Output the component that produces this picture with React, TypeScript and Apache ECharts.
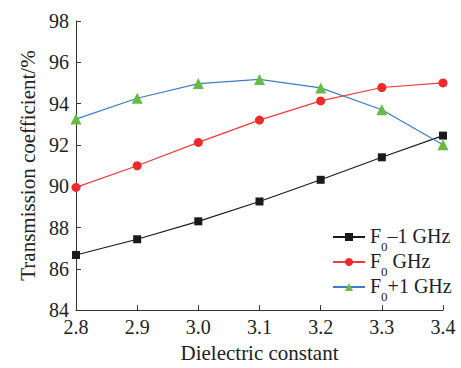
import React, { useEffect, useRef } from "react";
import * as echarts from "echarts";

const categories = ["2.8", "2.9", "3.0", "3.1", "3.2", "3.3", "3.4"];
const seriesMinus1 = [86.67, 87.43, 88.3, 89.26, 90.31, 91.4, 92.45];
const seriesF0 = [89.94, 90.99, 92.12, 93.2, 94.13, 94.78, 95.0];
const seriesPlus1 = [93.25, 94.26, 94.97, 95.17, 94.76, 93.7, 92.01];
const seriesNames = ["F0-1 GHz", "F0 GHz", "F0+1 GHz"];
const legendLabels: Record<string, string> = {
  "F0-1 GHz": "{a|F}{s|0}{a|\u20131 GHz}",
  "F0 GHz": "{a|F}{s|0}{a| GHz}",
  "F0+1 GHz": "{a|F}{s|0}{a|+1 GHz}",
};

const FONT = "Liberation Serif";
const FS = 21;
const TICK_FS = 20;
const LEG_FS = 20;

export default function App() {
  const ref = useRef<HTMLDivElement>(null);
  useEffect(() => {
    const chart = echarts.init(ref.current!, null, { renderer: "svg" });
    const axisLine = { show: true, lineStyle: { color: "#333", width: 1 } };
    chart.setOption({
      animation: false,
      backgroundColor: "#fff",
      grid: { left: 76, right: 18, top: 21, bottom: 52 },
      legend: {
        orient: "vertical",
        left: 327,
        top: 221,
        itemWidth: 32,
        itemHeight: 10,
        itemGap: -2,
        data: seriesNames,
        formatter: (n: string) => legendLabels[n],
        textStyle: {
          fontFamily: FONT,
          rich: {
            a: { fontFamily: FONT, fontSize: LEG_FS, color: "#222", lineHeight: 22, verticalAlign: "top" },
            s: { fontFamily: FONT, fontSize: 13, color: "#222", verticalAlign: "top", lineHeight: 13, padding: [14, 0, 0, 0] },
          },
        },
      },
      xAxis: {
        type: "category",
        data: categories,
        boundaryGap: false,
        name: "Dielectric constant",
        nameLocation: "middle",
        nameGap: 28,
        nameTextStyle: { fontFamily: FONT, fontSize: FS, color: "#222" },
        axisLine,
        axisTick: { show: true, inside: true, length: 5, lineStyle: { color: "#333" } },
        axisLabel: { fontFamily: FONT, fontSize: TICK_FS, color: "#222", margin: 7, lineHeight: 20 },
        splitLine: { show: false },
      },
      yAxis: {
        type: "value",
        min: 84,
        max: 98,
        interval: 2,
        name: "Transmission coefficient/%",
        nameLocation: "middle",
        nameGap: 33,
        nameTextStyle: { fontFamily: FONT, fontSize: FS, color: "#222" },
        axisLine,
        axisTick: { show: true, inside: true, length: 5, lineStyle: { color: "#333" } },
        axisLabel: { fontFamily: FONT, fontSize: TICK_FS, color: "#222", margin: 7, lineHeight: 14 },
        splitLine: { show: false },
      },
      series: [
        {
          name: seriesNames[0],
          type: "line",
          data: seriesMinus1,
          symbol: "rect",
          symbolSize: 8,
          lineStyle: { color: "#1a1a1a", width: 1.2 },
          itemStyle: { color: "#1a1a1a" },
        },
        {
          name: seriesNames[1],
          type: "line",
          data: seriesF0,
          symbol: "circle",
          symbolSize: 9,
          lineStyle: { color: "#ee3b3b", width: 1.2 },
          itemStyle: { color: "#ee2a2a" },
        },
        {
          name: seriesNames[2],
          type: "line",
          data: seriesPlus1,
          symbol: "triangle",
          symbolSize: 11,
          lineStyle: { color: "#3d7cc9", width: 1.2 },
          itemStyle: { color: "#66bb44" },
        },
      ],
    });
    return () => chart.dispose();
  }, []);
  return (
    <div
      ref={ref}
      style={{ position: "fixed", left: 0, top: 0, width: 461, height: 368 }}
    />
  );
}
